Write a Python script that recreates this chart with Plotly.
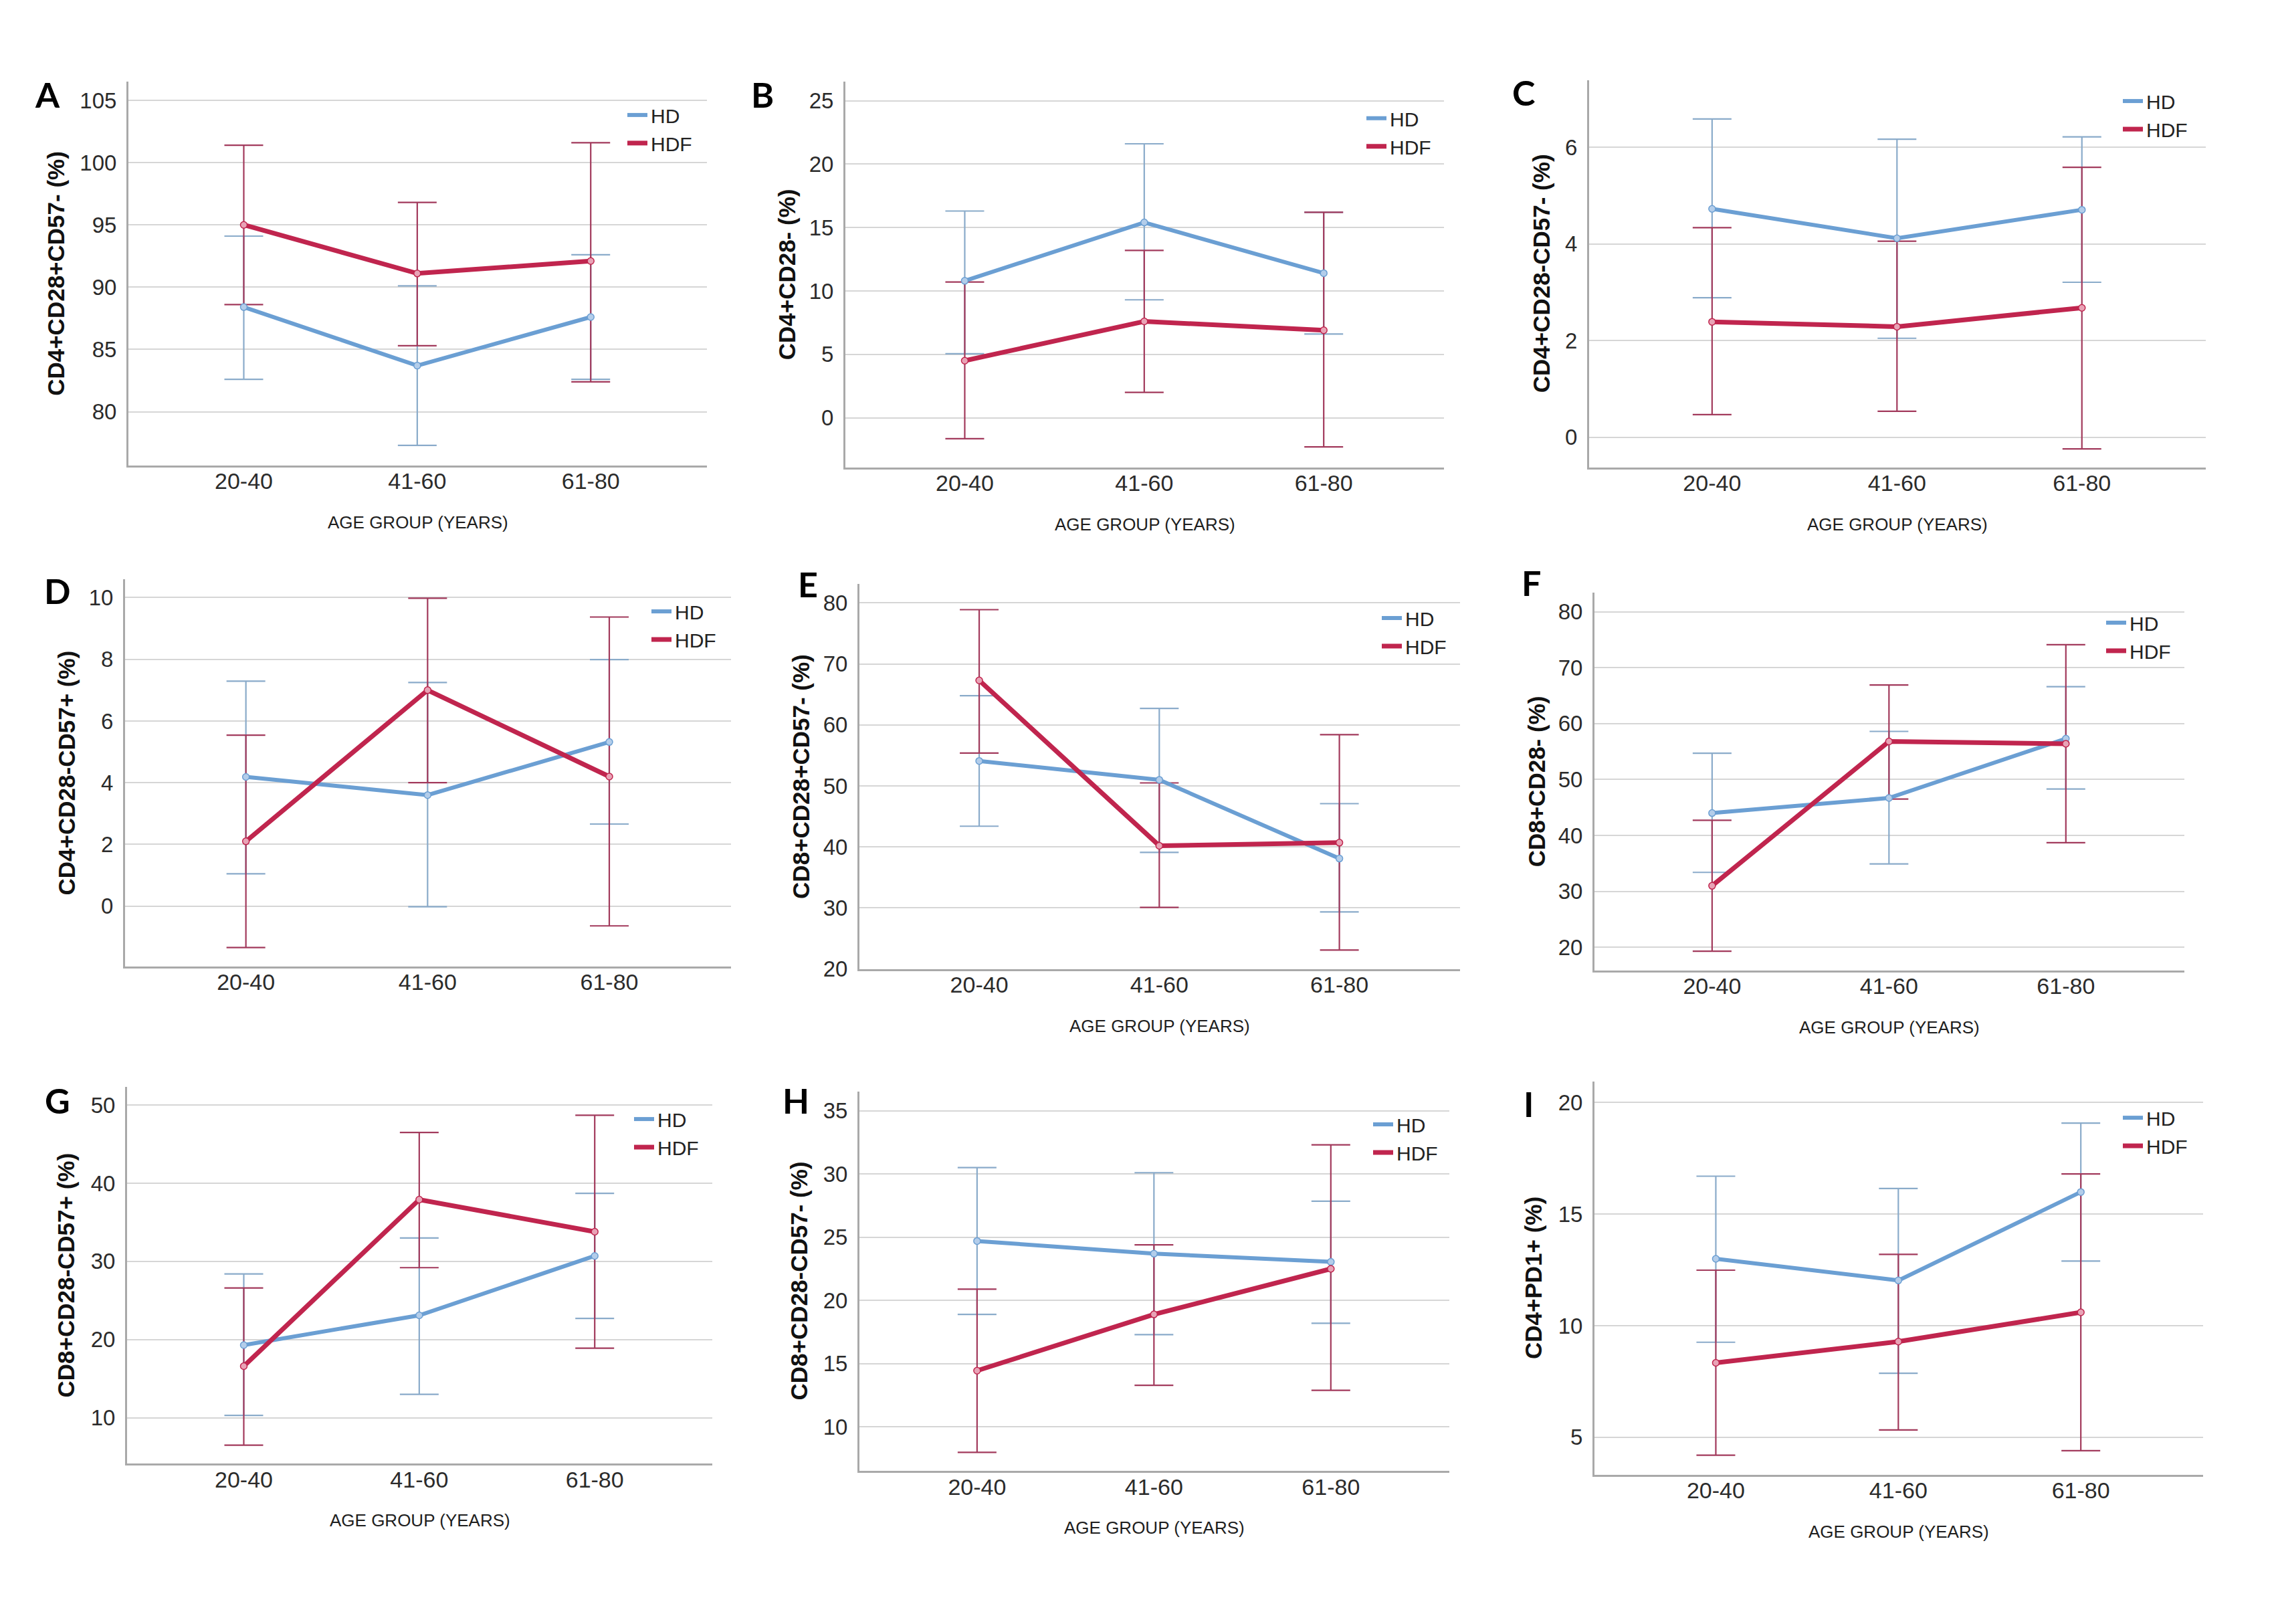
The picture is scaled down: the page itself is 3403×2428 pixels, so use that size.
import plotly.graph_objects as go

W, H = 3403, 2428

categories = ["20-40", "41-60", "61-80"]
x_pos = [0, 1, 2]
series_names = ["HD", "HDF"]

# ---------------- data (mean, lower and upper error-bar ends) ----------------
A_hd_mean = [88.4, 83.7, 87.6]
A_hd_lo = [82.6, 77.3, 82.6]
A_hd_hi = [94.1, 90.1, 92.6]
A_hdf_mean = [95.0, 91.1, 92.1]
A_hdf_lo = [88.6, 85.3, 82.4]
A_hdf_hi = [101.4, 96.8, 101.6]

B_hd_mean = [10.8, 15.4, 11.4]
B_hd_lo = [5.05, 9.3, 6.6]
B_hd_hi = [16.3, 21.6, 16.2]
B_hdf_mean = [4.5, 7.6, 6.9]
B_hdf_lo = [-1.65, 2.0, -2.3]
B_hdf_hi = [10.7, 13.2, 16.2]

C_hd_mean = [4.73, 4.12, 4.71]
C_hd_lo = [2.89, 2.05, 3.21]
C_hd_hi = [6.59, 6.17, 6.22]
C_hdf_mean = [2.39, 2.29, 2.68]
C_hdf_lo = [0.47, 0.54, -0.24]
C_hdf_hi = [4.34, 4.06, 5.59]

D_hd_mean = [4.19, 3.6, 5.32]
D_hd_lo = [1.05, -0.02, 2.66]
D_hd_hi = [7.29, 7.25, 7.99]
D_hdf_mean = [2.1, 7.0, 4.2]
D_hdf_lo = [-1.34, 4.0, -0.64]
D_hdf_hi = [5.54, 9.98, 9.37]

E_hd_mean = [54.1, 51.0, 38.1]
E_hd_lo = [43.4, 39.1, 29.35]
E_hd_hi = [64.8, 62.7, 47.1]
E_hdf_mean = [67.3, 40.2, 40.7]
E_hdf_lo = [55.4, 30.1, 23.1]
E_hdf_hi = [78.9, 50.5, 58.4]

F_hd_mean = [44.0, 46.7, 57.3]
F_hd_lo = [33.4, 34.9, 48.3]
F_hd_hi = [54.7, 58.6, 66.6]
F_hdf_mean = [31.0, 56.8, 56.4]
F_hdf_lo = [19.3, 46.5, 38.7]
F_hdf_hi = [42.7, 66.9, 74.1]

G_hd_mean = [19.3, 23.1, 30.7]
G_hd_lo = [10.3, 13.0, 22.7]
G_hd_hi = [28.4, 33.0, 38.7]
G_hdf_mean = [16.6, 37.9, 33.8]
G_hdf_lo = [6.5, 29.2, 18.9]
G_hdf_hi = [26.6, 46.5, 48.7]

H_hd_mean = [24.7, 23.7, 23.05]
H_hd_lo = [18.9, 17.3, 18.2]
H_hd_hi = [30.5, 30.1, 27.85]
H_hdf_mean = [14.45, 18.9, 22.5]
H_hdf_lo = [8.0, 13.3, 12.9]
H_hdf_hi = [20.9, 24.4, 32.3]

I_hd_mean = [13.0, 12.03, 15.99]
I_hd_lo = [9.26, 7.87, 12.9]
I_hd_hi = [16.7, 16.15, 19.08]
I_hdf_mean = [8.34, 9.29, 10.6]
I_hdf_lo = [4.2, 5.33, 4.4]
I_hdf_hi = [12.49, 13.2, 16.8]

y_titles = {
    "A": "CD4+CD28+CD57- (%)", "B": "CD4+CD28- (%)", "C": "CD4+CD28-CD57- (%)",
    "D": "CD4+CD28-CD57+ (%)", "E": "CD8+CD28+CD57- (%)", "F": "CD8+CD28- (%)",
    "G": "CD8+CD28-CD57+ (%)", "H": "CD8+CD28-CD57- (%)", "I": "CD4+PD1+ (%)",
}
y_ticks = {
    "A": [80, 85, 90, 95, 100, 105], "B": [0, 5, 10, 15, 20, 25], "C": [0, 2, 4, 6],
    "D": [0, 2, 4, 6, 8, 10], "E": [20, 30, 40, 50, 60, 70, 80], "F": [20, 30, 40, 50, 60, 70, 80],
    "G": [10, 20, 30, 40, 50], "H": [10, 15, 20, 25, 30, 35], "I": [5, 10, 15, 20],
}
y_ranges = {
    "A": [75.7, 106.5], "B": [-3.9, 26.5], "C": [-0.62, 7.39],
    "D": [-1.95, 10.59], "E": [20.0, 83.1], "F": [15.9, 83.4],
    "G": [4.17, 52.3], "H": [6.55, 36.5], "I": [3.33, 20.93],
}
x_title = "AGE GROUP (YEARS)"
panels_with_xtitle = ["A", "B", "C", "E", "F", "G", "H", "I"]

data = {
    "A": (A_hd_mean, A_hd_lo, A_hd_hi, A_hdf_mean, A_hdf_lo, A_hdf_hi),
    "B": (B_hd_mean, B_hd_lo, B_hd_hi, B_hdf_mean, B_hdf_lo, B_hdf_hi),
    "C": (C_hd_mean, C_hd_lo, C_hd_hi, C_hdf_mean, C_hdf_lo, C_hdf_hi),
    "D": (D_hd_mean, D_hd_lo, D_hd_hi, D_hdf_mean, D_hdf_lo, D_hdf_hi),
    "E": (E_hd_mean, E_hd_lo, E_hd_hi, E_hdf_mean, E_hdf_lo, E_hdf_hi),
    "F": (F_hd_mean, F_hd_lo, F_hd_hi, F_hdf_mean, F_hdf_lo, F_hdf_hi),
    "G": (G_hd_mean, G_hd_lo, G_hd_hi, G_hdf_mean, G_hdf_lo, G_hdf_hi),
    "H": (H_hd_mean, H_hd_lo, H_hd_hi, H_hdf_mean, H_hdf_lo, H_hdf_hi),
    "I": (I_hd_mean, I_hd_lo, I_hd_hi, I_hdf_mean, I_hdf_lo, I_hdf_hi),
}

# ---------------- layout geometry (pixels) ----------------
# plot area: left, right, top, bottom
boxes = {
    "A": (184, 1049, 115, 693), "B": (1256, 2151, 115, 696), "C": (2368, 3290, 113, 696),
    "D": (179, 1085, 865, 1448), "E": (1277, 2175, 872, 1452), "F": (2376, 3258, 885, 1454),
    "G": (182, 1057, 1630, 2197), "H": (1277, 2159, 1637, 2208), "I": (2376, 3286, 1622, 2214),
}
ytitle_x = {"A": 76, "B": 1168, "C": 2296, "D": 91, "E": 1190, "F": 2289, "G": 91, "H": 1186, "I": 2285}
letter_pos = {"A": (63, 144), "B": (1132, 144), "C": (2270, 141), "D": (78, 892), "E": (1200, 882),
              "F": (2281, 880), "G": (78, 1660), "H": (1182, 1660), "I": (2277, 1665)}
legend_pos = {"A": (925, 174), "B": (2030, 179), "C": (3161, 153), "D": (961, 922), "E": (2053, 932),
              "F": (3136, 939), "G": (935, 1687), "H": (2040, 1695), "I": (3161, 1685)}

HD_LINE = "#6b9fd3"
HDF_LINE = "#c0254e"
HD_ERR = "#8aabca"
HDF_ERR = "#a23a5c"
HD_MK = "#b3cdea"
HDF_MK = "#e8a3b6"

FONT = "Liberation Sans, Arial, sans-serif"

fig = go.Figure()
layout = dict(
    width=W, height=H, margin=dict(l=0, r=0, t=0, b=0),
    paper_bgcolor="white", plot_bgcolor="white", showlegend=True,
)
annotations = []

for i, key in enumerate(["A", "B", "C", "D", "E", "F", "G", "H", "I"]):
    n = "" if i == 0 else str(i + 1)
    xa, ya = "x" + n, "y" + n
    lg = "legend" + n
    l, r, t, b = boxes[key]
    xd = [l / W, r / W]
    yd = [1 - b / H, 1 - t / H]
    hd_m, hd_lo, hd_hi, hdf_m, hdf_lo, hdf_hi = data[key]

    for mean, lo, hi, col, lw in [(hd_m, hd_lo, hd_hi, HD_ERR, 2.2), (hdf_m, hdf_lo, hdf_hi, HDF_ERR, 2.2)]:
        fig.add_trace(go.Scatter(
            x=x_pos, y=mean, xaxis=xa, yaxis=ya, mode="none", showlegend=False, hoverinfo="skip",
            error_y=dict(type="data", symmetric=False,
                         array=[h - m for h, m in zip(hi, mean)],
                         arrayminus=[m - q for m, q in zip(mean, lo)],
                         color=col, thickness=lw, width=29),
        ))
    for name, mean, col, mk, lw in [("HD", hd_m, HD_LINE, HD_MK, 6), ("HDF", hdf_m, HDF_LINE, HDF_MK, 7)]:
        fig.add_trace(go.Scatter(
            x=x_pos, y=mean, xaxis=xa, yaxis=ya, mode="lines", name=name, legend=lg,
            line=dict(color=col, width=lw), showlegend=True,
        ))
        fig.add_trace(go.Scatter(
            x=x_pos, y=mean, xaxis=xa, yaxis=ya, mode="markers", showlegend=False,
            marker=dict(symbol="circle", size=10, color=mk, line=dict(color=col, width=1.5)),
        ))

    layout["xaxis" + n] = dict(
        domain=xd, anchor=ya, range=[-0.665, 2.67], tickvals=x_pos, ticktext=categories,
        showgrid=False, zeroline=False, showline=True, linecolor="#a9a9a9", linewidth=3,
        ticks="", ticklabelstandoff=-8, tickfont=dict(family=FONT, size=34, color="#2b2b2b"),
        fixedrange=True,
    )
    layout["yaxis" + n] = dict(
        domain=yd, anchor=xa, range=y_ranges[key], tickvals=y_ticks[key],
        showgrid=True, gridcolor="#d6d6d6", gridwidth=2, zeroline=False,
        showline=True, linecolor="#a9a9a9", linewidth=3,
        ticks="", ticklabelstandoff=8, tickfont=dict(family=FONT, size=33, color="#2b2b2b"),
        fixedrange=True,
    )
    lx, ly = legend_pos[key]
    layout[lg] = dict(
        x=lx / W, y=1 - (ly - 35) / H, xanchor="left", yanchor="top",
        bgcolor="rgba(0,0,0,0)", borderwidth=0, tracegroupgap=0,
        font=dict(family=FONT, size=30, color="#222222"), itemwidth=30,
    )
    # y-axis title
    annotations.append(dict(
        text="<b>" + y_titles[key] + "</b>", xref="paper", yref="paper",
        x=ytitle_x[key] / W, y=(yd[0] + yd[1]) / 2, textangle=-90,
        xanchor="center", yanchor="middle", showarrow=False,
        font=dict(family=FONT, size=35, color="#111111"),
    ))
    # x-axis title
    if key in panels_with_xtitle:
        annotations.append(dict(
            text=x_title, xref="paper", yref="paper",
            x=(xd[0] + xd[1]) / 2, y=1 - (b + 86) / H,
            xanchor="center", yanchor="middle", showarrow=False,
            font=dict(family=FONT, size=26, color="#1e1e1e"),
        ))
    # panel letter
    px, py = letter_pos[key]
    annotations.append(dict(
        text="<b>" + key + "</b>", xref="paper", yref="paper",
        x=px / W, y=1 - (py - 10) / H, xanchor="center", yanchor="middle", showarrow=False,
        font=dict(family="Lato, Liberation Sans, sans-serif", size=52, color="#000000"),
    ))

layout["annotations"] = annotations
fig.update_layout(**layout)
fig.write_html("out.html")
